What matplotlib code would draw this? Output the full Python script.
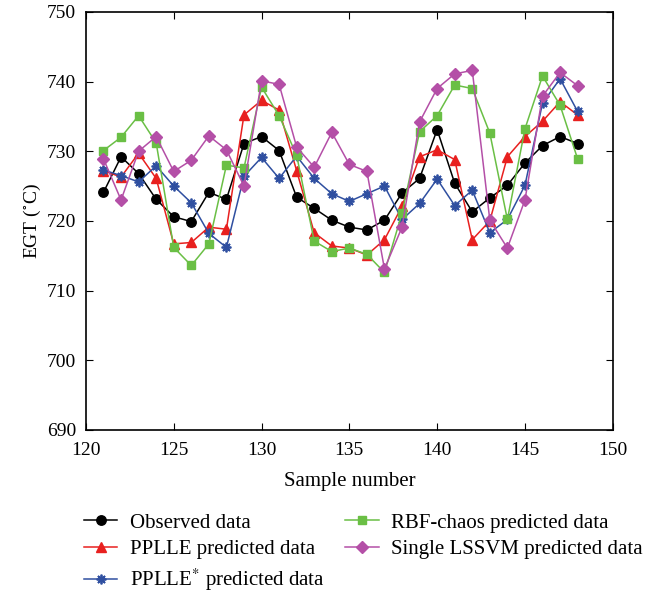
import numpy as np
import matplotlib
matplotlib.use("Agg")
from matplotlib import pyplot as plt

plt.rcParams['font.family'] = ['Liberation Serif', 'DejaVu Serif']
plt.rcParams['mathtext.fontset'] = 'stix'

samples = np.arange(121, 149)
observed = [724.1, 729.2, 726.8, 723.1, 720.6, 719.9, 724.1, 723.1, 731.1, 732.1,
            730.1, 723.4, 721.8, 720.1, 719.1, 718.7, 720.1, 724.0, 726.1, 733.1,
            725.4, 721.3, 723.3, 725.1, 728.3, 730.8, 732.1, 731.1]
pplle = [727.2, 726.3, 729.7, 726.1, 716.7, 716.9, 719.1, 718.8, 735.2, 737.3,
         735.9, 727.2, 718.3, 716.4, 716.1, 715.1, 717.3, 722.1, 729.2, 730.2,
         728.8, 717.3, 720.0, 729.2, 732.1, 734.3, 737.1, 735.2]
pplle_star = [727.3, 726.5, 725.6, 727.9, 725.0, 722.6, 718.2, 716.2, 726.4, 729.1,
              726.1, 729.3, 726.1, 723.9, 722.8, 723.9, 725.0, 720.2, 722.5, 726.0,
              722.2, 724.4, 718.3, 720.2, 725.1, 736.9, 740.4, 735.7]
rbf = [730.1, 732.0, 735.1, 731.2, 716.2, 713.6, 716.7, 728.0, 727.6, 739.2,
       735.1, 729.4, 717.1, 715.6, 716.1, 715.2, 712.6, 721.1, 732.8, 735.1,
       739.5, 739.0, 732.6, 720.2, 733.2, 740.8, 736.6, 728.9]
lssvm = [728.9, 723.0, 730.0, 732.1, 727.1, 728.7, 732.2, 730.2, 725.0, 740.1,
         739.6, 730.6, 727.7, 732.7, 728.1, 727.1, 713.1, 719.1, 734.2, 739.0,
         741.1, 741.6, 720.1, 716.1, 723.0, 737.9, 741.3, 739.4]

fig = plt.figure(figsize=(6.61, 5.93), dpi=100)
ax = fig.add_axes([0.130, 0.275, 0.797, 0.705])

ax.plot(samples, observed, '-o', color='black', lw=1.1, ms=6.8, label='Observed data')
ax.plot(samples, pplle, '-^', color='#e8201f', lw=1.1, ms=7.5, label='PPLLE predicted data')
ax.plot(samples, pplle_star, '-', marker=(8, 2, 0), color='#2f4fa0', lw=1.1, ms=7,
        mew=1.3, label='PPLLE$^{*}$ predicted data')
ax.plot(samples, rbf, '-s', color='#6abf45', lw=1.1, ms=5.8, label='RBF-chaos predicted data')
ax.plot(samples, lssvm, '-D', color='#b44fa7', lw=1.1, ms=6, label='Single LSSVM predicted data')

ax.set_xlim(120, 150)
ax.set_ylim(690, 750)
ax.set_xticks(np.arange(120, 151, 5))
ax.set_yticks(np.arange(690, 751, 10))
ax.tick_params(direction='in', top=True, right=True, labelsize=14, length=5)
ax.tick_params(axis='x', pad=9)
ax.tick_params(axis='y', pad=7)
for s in ax.spines.values():
    s.set_linewidth(1.2)
ax.set_xlabel('Sample number', fontsize=15, labelpad=9)
ax.set_ylabel('EGT ($^{\\circ}$C)', fontsize=14, labelpad=3)

fig.legend(loc='upper left', bbox_to_anchor=(0.127, 0.135), ncol=2, frameon=False,
           fontsize=15, handlelength=1.6, handletextpad=0.6, columnspacing=1.0,
           labelspacing=0.35, borderaxespad=0, borderpad=0)
fig.savefig('out.png', dpi=100)
